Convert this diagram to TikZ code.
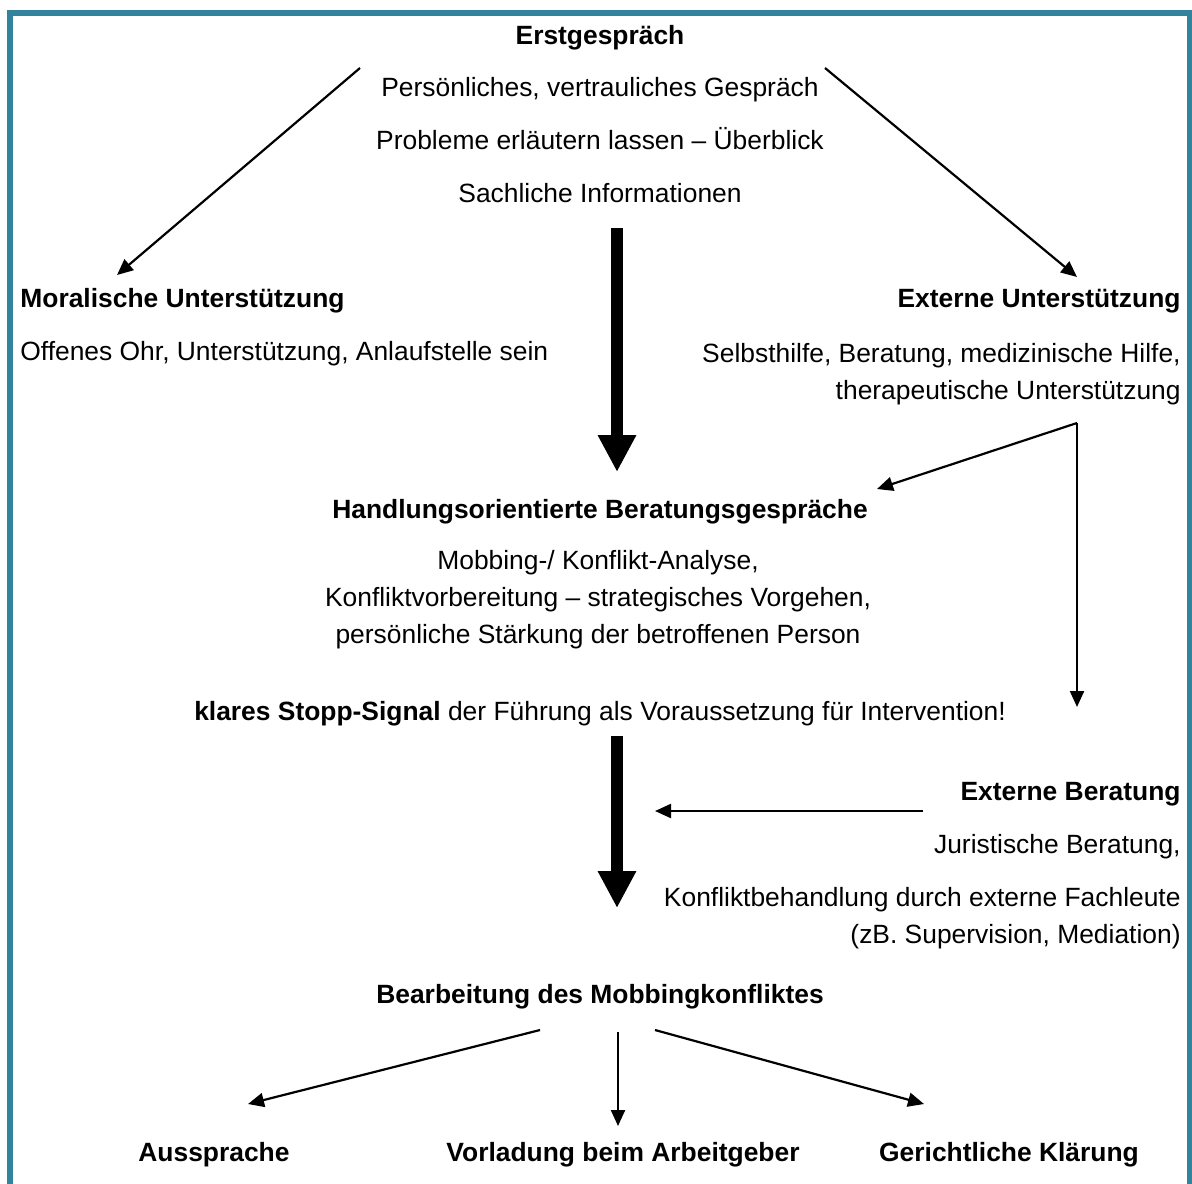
\documentclass[tikz,border=0pt]{standalone}
\usepackage{fontspec}
\setmainfont{Liberation Sans}
\usetikzlibrary{arrows.meta}
\definecolor{rahmen}{RGB}{49,132,155}

\begin{document}
\begin{tikzpicture}[x=0.5pt,y=-0.5pt,
  txt/.style={inner sep=0pt,font=\fontsize{13.2}{18.5}\selectfont},
  titel/.style={txt,font=\fontsize{13.2}{18.5}\selectfont\bfseries},
  pfeil/.style={line width=1.1pt,-{Triangle[length=8pt,width=7pt]}},
  dick/.style={line width=6pt,-{Triangle[length=18.5pt,width=18pt]}}]

\clip (0,0) rectangle (1192,1183) ;

% Rahmen

\draw[rahmen,line width=3.2pt] (10,1250) -- (10,13) -- (1190,13) -- (1190,1250) ;

% Erstgespräch

\node[titel,anchor=base] (erst) at (600,44) {Erstgespräch} ;
\node[txt,anchor=base] (erst1) at (600,96) {Persönliches, vertrauliches Gespräch} ;
\node[txt,anchor=base] (erst2) at (600,149) {Probleme erläutern lassen – Überblick} ;
\node[txt,anchor=base] (erst3) at (600,202) {Sachliche Informationen} ;

% Unterstützung links und rechts

\node[titel,anchor=base west] (moral) at (20,307) {Moralische Unterstützung} ;
\node[txt,anchor=base west] (moral1) at (20,360) {Offenes Ohr, Unterstützung, Anlaufstelle sein} ;

\node[titel,anchor=base east] (extern) at (1181,307) {Externe Unterstützung} ;
\node[txt,anchor=base east,align=right] (extern1) at (1181,399)
  {Selbsthilfe, Beratung, medizinische Hilfe,\\therapeutische Unterstützung} ;

% Beratungsgespräche

\node[titel,anchor=base] (handlung) at (600,518) {Handlungsorientierte Beratungsgespräche} ;
\node[txt,anchor=base,align=center] (handlung1) at (598,643)
  {Mobbing-/ Konflikt-Analyse,\\Konfliktvorbereitung – strategisches Vorgehen,\\persönliche Stärkung der betroffenen Person} ;
\node[txt,anchor=base] (stopp) at (600,720)
  {\textbf{klares Stopp-Signal} der Führung als Voraussetzung für Intervention!} ;

% Externe Beratung

\node[titel,anchor=base east] (beratung) at (1181,800) {Externe Beratung} ;
\node[txt,anchor=base east] (beratung1) at (1181,853) {Juristische Beratung,} ;
\node[txt,anchor=base east,align=right] (beratung2) at (1181,943)
  {Konfliktbehandlung durch externe Fachleute\\(zB. Supervision, Mediation)} ;

% Bearbeitung

\node[titel,anchor=base] (bearbeitung) at (600,1003) {Bearbeitung des Mobbingkonfliktes} ;
\node[titel,anchor=base] (aussprache) at (214,1161) {Aussprache} ;
\node[titel,anchor=base] (vorladung) at (623,1161) {Vorladung beim Arbeitgeber} ;
\node[titel,anchor=base] (gericht) at (1009,1161) {Gerichtliche Klärung} ;

% Pfeilenden

\coordinate (erst-l) at (360,68) ;
\coordinate (erst-r) at (825,68) ;
\coordinate (moral-o) at (117,275) ;
\coordinate (extern-o) at (1077,277) ;
\coordinate (extern-u) at (1077,423) ;
\coordinate (handlung-r) at (877,489) ;
\coordinate (stopp-r) at (1077,707) ;
\coordinate (beratung-l) at (923,811) ;
\coordinate (mitte-r) at (655,811) ;
\coordinate (dick1-o) at (617,228) ;
\coordinate (dick1-u) at (617,472) ;
\coordinate (dick2-o) at (617,736) ;
\coordinate (dick2-u) at (617,908) ;
\coordinate (bearb-l) at (540,1030) ;
\coordinate (bearb-m) at (618,1032) ;
\coordinate (bearb-r) at (655,1030) ;
\coordinate (aussprache-o) at (248,1104) ;
\coordinate (vorladung-o) at (618,1126) ;
\coordinate (gericht-o) at (924,1104) ;

% Pfeile

\draw[pfeil] (erst-l) -- (moral-o) ;
\draw[pfeil] (erst-r) -- (extern-o) ;
\draw[pfeil] (extern-u) -- (handlung-r) ;
\draw[pfeil] (extern-u) -- (stopp-r) ;
\draw[pfeil] (beratung-l) -- (mitte-r) ;
\draw[dick] (dick1-o) -- (dick1-u) ;
\draw[dick] (dick2-o) -- (dick2-u) ;
\draw[pfeil] (bearb-l) -- (aussprache-o) ;
\draw[pfeil] (bearb-m) -- (vorladung-o) ;
\draw[pfeil] (bearb-r) -- (gericht-o) ;

\end{tikzpicture}
\end{document}
